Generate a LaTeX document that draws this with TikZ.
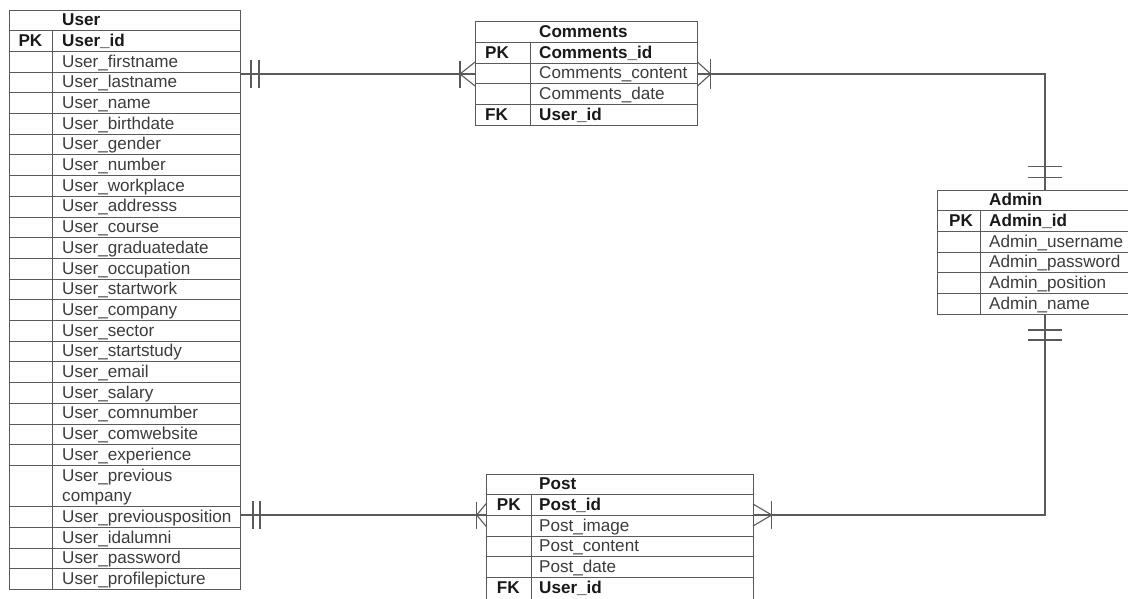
\documentclass[tikz,border=0pt]{standalone}
\usepackage{fontspec}
\setmainfont{Liberation Sans}
\usepackage{xcolor}
\usetikzlibrary{calc,positioning}
\definecolor{linegray}{HTML}{5A5A5A}
\definecolor{fieldgray}{HTML}{3C3C3C}
\newcommand\fieldfont{\fontsize{17.1}{19}\selectfont}
\tikzset{
  tab/.style={draw=linegray, line width=1pt},
  fld/.style={
    anchor=west,
    inner sep=0pt,
    text height=14pt,
    text depth=3.5pt,
    text=fieldgray,
    font=\fieldfont
  },
  keyfld/.style={
    fld,
    text=black!90,
    font=\fieldfont\bfseries
  },
  rel/.style={draw=linegray, line width=1.1pt}
}

\begin{document}
\begin{tikzpicture}[x=1pt,y=-1pt]
        \useasboundingbox (0,0) rectangle (1128,598);
        \fill[white] (0,0) rectangle (1128,598);
        \clip (0,0) rectangle (1128,598);
        % User table
        \draw[tab] (9.3,10) rectangle (240.5,589.6);
        \draw[tab] (52,30.7) -- (52,589.6);
        \foreach \k in {1,...,22,24,25,26,27}
            \draw[tab] (9.3,{10+\k*20.7}) -- (240.5,{10+\k*20.7});
        \node[keyfld] (user-head) at (62,20.35) {User};
        \node[keyfld] (user-pk) at (18.3,41.05) {PK};
        \node[keyfld] (user-id) at (62,41.05) {User\_id};
        \foreach \f [count=\k from 2] in {firstname,lastname,name,birthdate,gender,number,workplace,addresss,course,graduatedate,occupation,startwork,company,sector,startstudy,email,salary,comnumber,comwebsite,experience}
            \node[fld] (user-\k) at (62,{20.35+\k*20.7}) {User\_\f};
        \node[fld] (user-22) at (62,{20.35+22*20.7}) {User\_previous};
        \node[fld] (user-23) at (62,{20.35+23*20.7}) {company};
        \foreach \f [count=\k from 24] in {previousposition,idalumni,password,profilepicture}
            \node[fld] (user-\k) at (62,{20.35+\k*20.7}) {User\_\f};
        % Comments table
        \draw[tab] (475.7,21.7) rectangle (697.5,125.2);
        \draw[tab] (530,42.4) -- (530,125.2);
        \foreach \k in {1,...,4}
            \draw[tab] (475.7,{21.7+\k*20.7}) -- (697.5,{21.7+\k*20.7});
        \node[keyfld] (com-head) at (539,32.05) {Comments};
        \node[keyfld] (com-pk) at (485,52.75) {PK};
        \node[keyfld] (com-id) at (539,52.75) {Comments\_id};
        \node[fld] (com-2) at (539,73.45) {Comments\_content};
        \node[fld] (com-3) at (539,94.15) {Comments\_date};
        \node[keyfld] (com-fk) at (485,114.85) {FK};
        \node[keyfld] (com-uid) at (539,114.85) {User\_id};
        % Admin table
        \draw[tab] (937.7,190) rectangle (1140,314.2);
        \draw[tab] (980.7,210.7) -- (980.7,314.2);
        \foreach \k in {1,...,5}
            \draw[tab] (937.7,{190+\k*20.7}) -- (1140,{190+\k*20.7});
        \node[keyfld] (adm-head) at (989,200.35) {Admin};
        \node[keyfld] (adm-pk) at (949,221.05) {PK};
        \node[keyfld] (adm-id) at (989,221.05) {Admin\_id};
        \foreach \f [count=\k from 2] in {username,password,position,name}
            \node[fld] (adm-\k) at (989,{200.35+\k*20.7}) {Admin\_\f};
        % Post table
        \draw[tab] (486.7,474) rectangle (753,600);
        \draw[tab] (531,494.7) -- (531,600);
        \foreach \k in {1,...,5}
            \draw[tab] (486.7,{474+\k*20.7}) -- (753,{474+\k*20.7});
        \node[keyfld] (post-head) at (539,484.35) {Post};
        \node[keyfld] (post-pk) at (496.7,505.05) {PK};
        \node[keyfld] (post-id) at (539,505.05) {Post\_id};
        \foreach \f [count=\k from 2] in {image,content,date}
            \node[fld] (post-\k) at (539,{484.35+\k*20.7}) {Post\_\f};
        \node[keyfld] (post-fk) at (496.7,587.85) {FK};
        \node[keyfld] (post-uid) at (539,587.85) {User\_id};
        % relation ends
        \coordinate (u-c) at (240.5,74);
        \coordinate (c-u) at (475.7,74);
        \coordinate (c-a) at (697.5,74);
        \coordinate (a-c) at (1045,190);
        \coordinate (a-p) at (1045,314.2);
        \coordinate (p-a) at (753,515);
        \coordinate (u-p) at (240.5,515);
        \coordinate (p-u) at (486.7,515);
        % User -- Comments
        \draw[rel] (u-c) -- (c-u);
        \draw[rel] ([xshift=10.5pt,yshift=14pt]u-c) -- ++(0,28);
        \draw[rel] ([xshift=18.5pt,yshift=14pt]u-c) -- ++(0,28);
        \draw[rel] ([xshift=-15.7pt,yshift=13.5pt]c-u) -- ++(0,27);
        \draw[rel] ([yshift=12.5pt]c-u) -- ([xshift=-15.7pt]c-u) -- ([yshift=-12.5pt]c-u);
        % Comments -- Admin
        \draw[rel] (c-a) -| (a-c);
        \draw[rel] ([xshift=13.2pt,yshift=15pt]c-a) -- ++(0,30);
        \draw[rel] ([yshift=12pt]c-a) -- ([xshift=13.2pt]c-a) -- ([yshift=-12pt]c-a);
        \draw[rel] ([xshift=-17pt,yshift=23.3pt]a-c) -- ++(34,0);
        \draw[rel] ([xshift=-17pt,yshift=12.7pt]a-c) -- ++(34,0);
        % Admin -- Post
        \draw[rel] (a-p) |- (p-a);
        \draw[rel] ([xshift=-17pt,yshift=-15.8pt]a-p) -- ++(34,0);
        \draw[rel] ([xshift=-17pt,yshift=-25.8pt]a-p) -- ++(34,0);
        \draw[rel] ([xshift=18.7pt,yshift=14pt]p-a) -- ++(0,28);
        \draw[rel] ([yshift=11pt]p-a) -- ([xshift=18.7pt]p-a) -- ([yshift=-11pt]p-a);
        % User -- Post
        \draw[rel] (u-p) -- (p-u);
        \draw[rel] ([xshift=12.5pt,yshift=14pt]u-p) -- ++(0,28);
        \draw[rel] ([xshift=19.5pt,yshift=14pt]u-p) -- ++(0,28);
        \draw[rel] ([xshift=-10pt,yshift=13.5pt]p-u) -- ++(0,27);
        \draw[rel] ([yshift=12pt]p-u) -- ([xshift=-10pt]p-u) -- ([yshift=-12pt]p-u);
\end{tikzpicture}
\end{document}
